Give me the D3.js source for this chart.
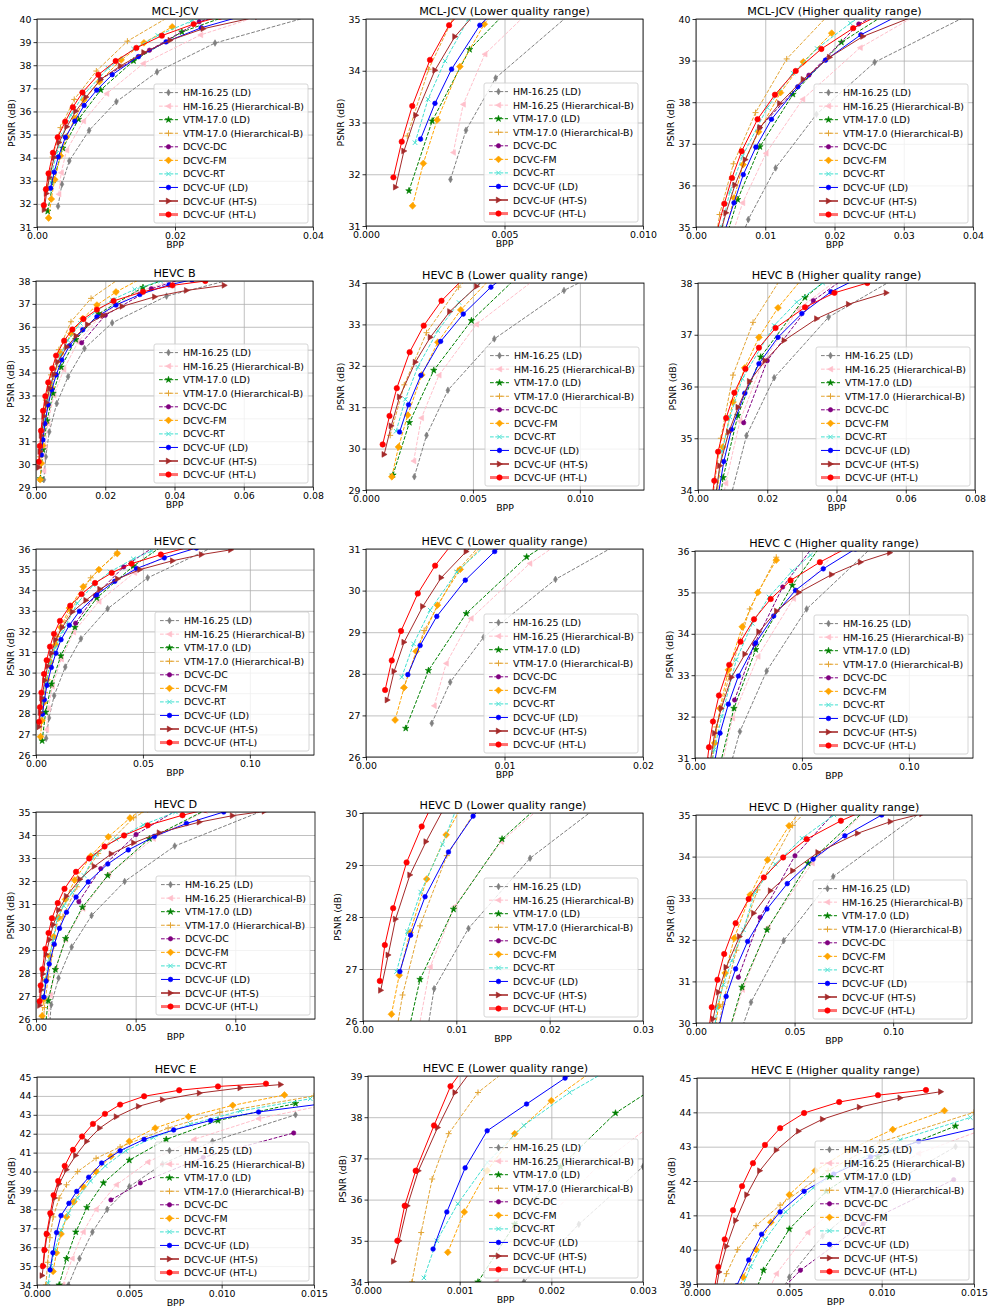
<!DOCTYPE html>
<html><head><meta charset="utf-8">
<script src="https://cdn.jsdelivr.net/npm/d3@7"></script>
<style>body{margin:0;background:#fff}svg{font-family:"DejaVu Sans",sans-serif}</style>
</head><body><svg id="c" width="992" height="1313"></svg>
<script>
const SERIES = ["HM-16.25 (LD)","HM-16.25 (Hierarchical-B)","VTM-17.0 (LD)","VTM-17.0 (Hierarchical-B)","DCVC-DC","DCVC-FM","DCVC-RT","DCVC-UF (LD)","DCVC-UF (HT-S)","DCVC-UF (HT-L)"];
const COLORS = ["#808080","#ffc0cb","#008000","#e3a535","#800080","#ffa500","#40e0d0","#0000ff","#a52a2a","#ff0000"];
const DASHED = [true,true,true,true,true,true,true,false,false,false];
const MARKERS = ["thin_diamond","tri_left","star","plus","circle_s","diamond","x","circle","tri_right","circle_l"];

// [bpp, psnr] per series, in SERIES order
const mclJcv = [
 [[0.00305,31.90],[0.00361,32.85],[0.00468,33.86],[0.00755,35.18],[0.0115,36.42],[0.0174,37.71],[0.0258,38.96],[0.0400,40.15]],
 [[0.00315,32.42],[0.00351,33.35],[0.00429,34.32],[0.00673,35.58],[0.0101,36.77],[0.0154,38.07],[0.0237,39.31],[0.034,40.3]],
 [[0.00155,31.68],[0.00239,33.03],[0.00374,34.41],[0.00601,35.66],[0.00923,36.93],[0.0140,38.19],[0.0210,39.44],[0.031,40.5]],
 [[0.00149,32.74],[0.00226,34.03],[0.0034,35.3],[0.0054,36.52],[0.0086,37.75],[0.0131,39.04],[0.0200,40.25]],
 [[0.0092,37.39],[0.0163,38.65],[0.0235,39.88],[0.035,40.9]],
 [[0.00168,31.39],[0.00207,32.21],[0.00257,33.05],[0.00339,34.08],[0.00427,34.90],[0.0055,35.70],[0.0068,36.50],[0.00904,37.29],[0.0122,38.23],[0.0155,38.97],[0.0196,39.66]],
 [[0.00177,32.61],[0.00224,33.45],[0.00285,34.19],[0.0037,35.0],[0.0049,35.85],[0.0067,36.7],[0.0103,37.87],[0.0140,38.7],[0.0175,39.29],[0.0223,39.9],[0.026,40.3]],
 [[0.00197,32.68],[0.00249,33.37],[0.00309,34.03],[0.00411,34.88],[0.00548,35.58],[0.00683,36.26],[0.00865,36.92],[0.0109,37.59],[0.0147,38.37],[0.0187,39.01],[0.0238,39.62],[0.030,40.15]],
 [[0.00107,31.75],[0.00137,32.45],[0.0018,33.14],[0.00249,34.01],[0.00321,34.66],[0.00433,35.34],[0.00563,36.01],[0.00712,36.62],[0.00923,37.39],[0.0121,37.97],[0.0155,38.55],[0.0193,39.08],[0.0241,39.58],[0.032,40.1]],
 [[0.00099,31.94],[0.00129,32.63],[0.00167,33.32],[0.00231,34.21],[0.0030,34.88],[0.00409,35.56],[0.00519,36.18],[0.00659,36.82],[0.00889,37.59],[0.0114,38.18],[0.0144,38.75],[0.0181,39.28],[0.0227,39.78],[0.0265,40.1]]
];
const hevcB = [
 [[0.00226,29.32],[0.00283,30.32],[0.00383,31.41],[0.0060,32.65],[0.00926,33.82],[0.0140,35.05],[0.0220,36.17],[0.0377,37.34],[0.065,38.4]],
 [[0.00223,29.70],[0.00259,30.74],[0.00341,31.77],[0.00516,33.0],[0.0080,34.13],[0.0121,35.33],[0.0185,36.45],[0.029,37.5],[0.045,38.3]],
 [[0.00126,29.36],[0.00203,30.63],[0.00317,31.89],[0.00493,33.09],[0.00726,34.24],[0.0115,35.44],[0.0181,36.57],[0.0309,37.72],[0.045,38.5]],
 [[0.00113,30.32],[0.00179,31.54],[0.00283,32.80],[0.00432,33.9],[0.0066,35.0],[0.0101,36.22],[0.0159,37.24],[0.025,38.2]],
 [[0.0132,35.3],[0.0200,36.5],[0.0333,37.66],[0.055,38.7]],
 [[0.00121,29.32],[0.00152,30.04],[0.00195,30.81],[0.00261,31.78],[0.00336,32.57],[0.00443,33.35],[0.00716,34.83],[0.0101,35.7],[0.0135,36.36],[0.0176,36.95],[0.0231,37.52],[0.034,38.4]],
 [[0.00141,30.42],[0.00184,31.19],[0.00242,31.97],[0.00336,32.85],[0.00435,33.53],[0.0070,34.75],[0.0092,35.41],[0.0128,36.15],[0.0220,37.18],[0.0285,37.63],[0.036,38.0]],
 [[0.00157,30.40],[0.00199,31.06],[0.00257,31.77],[0.00349,32.59],[0.00455,33.25],[0.00584,33.9],[0.00745,34.55],[0.00967,35.17],[0.0135,35.87],[0.0176,36.44],[0.0231,36.95],[0.0300,37.41],[0.0384,37.83],[0.045,38.05]],
 [[0.00085,29.86],[0.00118,30.55],[0.00157,31.25],[0.00231,32.09],[0.00301,32.69],[0.00392,33.31],[0.00518,33.92],[0.00629,34.47],[0.0089,35.12],[0.0116,35.6],[0.0149,36.1],[0.0194,36.5],[0.0249,36.89],[0.0343,37.31],[0.0435,37.59],[0.0544,37.81]],
 [[0.00078,30.1],[0.0011,30.79],[0.00144,31.46],[0.00204,32.33],[0.0027,32.97],[0.00353,33.57],[0.0047,34.18],[0.0058,34.74],[0.00813,35.39],[0.0105,35.88],[0.0137,36.34],[0.0176,36.75],[0.0224,37.13],[0.0309,37.53],[0.0394,37.81],[0.0489,38.0]]
];
const hevcC = [
 [[0.00475,26.81],[0.00608,27.8],[0.00849,28.88],[0.01368,30.27],[0.0210,31.64],[0.0335,33.1],[0.0522,34.6],[0.0850,36.2]],
 [[0.00492,27.23],[0.00579,28.25],[0.00758,29.33],[0.01182,30.65],[0.0175,31.96],[0.0294,33.45],[0.046,34.85],[0.068,36.1]],
 [[0.00287,26.69],[0.00451,28.08],[0.00724,29.45],[0.0116,30.81],[0.0182,32.2],[0.0284,33.62],[0.0455,35.17],[0.064,36.5]],
 [[0.0027,27.65],[0.0042,29.04],[0.0066,30.48],[0.0100,31.75],[0.0159,32.97],[0.0256,34.6],[0.0380,35.85]],
 [[0.0185,32.4],[0.0278,33.75],[0.041,35.13],[0.058,36.3]],
 [[0.0021,26.89],[0.00275,27.67],[0.00362,28.54],[0.00516,29.65],[0.0068,30.51],[0.0092,31.36],[0.0117,32.2],[0.0156,33.13],[0.0221,34.17],[0.0294,35.0],[0.0380,35.78]],
 [[0.00258,27.92],[0.00343,28.72],[0.00463,29.53],[0.00656,30.45],[0.0090,31.2],[0.0125,32.0],[0.0193,33.37],[0.0268,34.25],[0.0346,34.89],[0.0455,35.52],[0.054,35.9]],
 [[0.00302,27.98],[0.00391,28.68],[0.00511,29.38],[0.00717,30.25],[0.00929,30.94],[0.0117,31.6],[0.0156,32.3],[0.0203,32.98],[0.0284,33.78],[0.0368,34.43],[0.0470,35.05],[0.0600,35.57],[0.075,36.05]],
 [[0.00154,27.37],[0.00203,28.06],[0.00275,28.76],[0.0041,29.62],[0.00543,30.31],[0.00724,30.94],[0.0092,31.6],[0.0123,32.2],[0.0171,32.95],[0.0234,33.51],[0.0299,34.05],[0.0382,34.55],[0.0486,35.0],[0.0639,35.43],[0.0774,35.73],[0.0911,35.96]],
 [[0.00138,27.61],[0.00186,28.32],[0.00253,29.03],[0.00374,29.93],[0.00499,30.6],[0.00654,31.26],[0.00841,31.88],[0.0112,32.51],[0.0160,33.25],[0.0213,33.81],[0.0276,34.35],[0.0354,34.84],[0.0447,35.29],[0.0584,35.73],[0.072,36.1]]
];
const hevcD = [
 [[0.0068,25.7],[0.00762,26.62],[0.0113,27.78],[0.0179,29.13],[0.0279,30.5],[0.0445,31.98],[0.0696,33.52],[0.118,35.2]],
 [[0.0055,25.4],[0.0072,27.04],[0.0098,28.2],[0.0148,29.45],[0.0235,30.8],[0.0365,32.3],[0.0589,33.84],[0.085,35.05]],
 [[0.0045,25.5],[0.00611,26.8],[0.0097,28.15],[0.0149,29.5],[0.0233,30.86],[0.036,32.24],[0.0569,33.84],[0.090,35.3]],
 [[0.0033,25.5],[0.00424,26.5],[0.00611,27.83],[0.00898,29.18],[0.0135,30.45],[0.0205,31.75],[0.0312,33.2],[0.049,34.75],[0.056,35.1]],
 [[0.0215,31.1],[0.0325,32.54],[0.0502,34.02],[0.072,35.15]],
 [[0.00305,26.13],[0.00388,26.88],[0.00503,27.7],[0.00683,28.73],[0.00891,29.58],[0.0114,30.4],[0.0148,31.2],[0.0194,32.04],[0.0275,33.08],[0.0363,33.92],[0.0472,34.74],[0.053,35.1]],
 [[0.00359,26.95],[0.00474,27.72],[0.00618,28.48],[0.00852,29.4],[0.0106,30.36],[0.0139,30.92],[0.0182,31.5],[0.0241,32.24],[0.0297,33.14],[0.0402,33.82],[0.0538,34.44],[0.070,35.0]],
 [[0.00395,26.95],[0.0051,27.65],[0.00665,28.39],[0.00916,29.25],[0.0118,29.94],[0.0153,30.64],[0.0201,31.3],[0.0262,31.96],[0.036,32.74],[0.0463,33.35],[0.0594,33.94],[0.0755,34.5],[0.0942,35.0]],
 [[0.0019,26.59],[0.0027,27.27],[0.00349,27.96],[0.00503,28.81],[0.00676,29.45],[0.0087,30.1],[0.0114,30.74],[0.0153,31.34],[0.0221,32.08],[0.0293,32.64],[0.0378,33.18],[0.0491,33.66],[0.0619,34.1],[0.082,34.56],[0.0986,34.84],[0.1146,35.03]],
 [[0.0018,26.77],[0.00234,27.46],[0.00323,28.17],[0.00467,29.05],[0.00629,29.74],[0.0080,30.38],[0.0109,31.04],[0.0143,31.66],[0.0201,32.4],[0.0267,32.98],[0.0344,33.5],[0.0442,33.98],[0.0561,34.42],[0.0735,34.86],[0.085,35.1]]
];
const hevcE = [
 [[0.0017,34.0],[0.0023,35.4],[0.0030,36.8],[0.0038,38.0],[0.0050,39.2],[0.0068,40.4],[0.0095,41.6],[0.0140,43.0]],
 [[0.0014,34.0],[0.0019,35.4],[0.0025,36.8],[0.0032,38.0],[0.0043,39.3],[0.0060,40.5],[0.0085,41.7],[0.0120,42.8],[0.0160,43.6]],
 [[0.0012,34.0],[0.0016,35.4],[0.0021,36.8],[0.0027,38.1],[0.0036,39.4],[0.0050,40.6],[0.0070,41.7],[0.0098,42.7],[0.0140,43.6]],
 [[0.00048,34.0],[0.00058,35.2],[0.0007,36.5],[0.00088,37.6],[0.0012,38.6],[0.0016,39.3],[0.0022,40.0],[0.0032,40.7],[0.0045,41.3],[0.0071,42.3],[0.0099,43.13],[0.0150,44.0]],
 [[0.0040,38.5],[0.0056,39.4],[0.0090,40.75],[0.0139,42.04]],
 [[0.00087,34.72],[0.00105,35.7],[0.0013,36.7],[0.0016,37.6],[0.0020,38.4],[0.0025,39.2],[0.0032,40.0],[0.0040,40.8],[0.0050,41.6],[0.0064,42.3],[0.0082,42.9],[0.0106,43.5],[0.0134,44.05]],
 [[0.00061,34.1],[0.00075,35.0],[0.00098,35.9],[0.0013,36.9],[0.0017,37.8],[0.0022,38.6],[0.0029,39.5],[0.0037,40.3],[0.0048,41.1],[0.0063,41.8],[0.0083,42.5],[0.0110,43.2],[0.0148,43.85]],
 [[0.00071,34.8],[0.00086,35.7],[0.00106,36.77],[0.0013,37.67],[0.00173,38.32],[0.00215,38.95],[0.0028,39.7],[0.0035,40.45],[0.0045,41.1],[0.0058,41.7],[0.0074,42.2],[0.0094,42.7],[0.0120,43.15],[0.0152,43.55]],
 [[0.00028,34.5],[0.00034,35.0],[0.00043,35.85],[0.00055,36.7],[0.00076,37.75],[0.00095,38.6],[0.0012,39.35],[0.0016,40.1],[0.0021,40.85],[0.0027,41.6],[0.0034,42.3],[0.0043,42.9],[0.0055,43.45],[0.0068,43.8],[0.0088,44.15],[0.0110,44.42],[0.0132,44.6]],
 [[0.00032,35.0],[0.00040,35.85],[0.00052,36.7],[0.00072,37.8],[0.0009,38.75],[0.00115,39.5],[0.0015,40.3],[0.00195,41.15],[0.00244,41.85],[0.00303,42.52],[0.00368,43.05],[0.0045,43.54],[0.0058,43.98],[0.0077,44.3],[0.0098,44.5],[0.0124,44.65]]
];
const DATASETS = [mclJcv, hevcB, hevcC, hevcD, hevcE];

// tick labels
const xt004a = ["0.00","0.02","0.04"], xt001 = ["0.000","0.005","0.010"], xt004b = ["0.00","0.01","0.02","0.03","0.04"];
const xt008 = ["0.00","0.02","0.04","0.06","0.08"], xt0013 = ["0.000","0.005","0.010"];
const xt013 = ["0.00","0.05","0.10"], xt002 = ["0.00","0.01","0.02"], xt003 = ["0.00","0.01","0.02","0.03"];
const xt0015 = ["0.000","0.005","0.010","0.015"], xt0003 = ["0.000","0.001","0.002","0.003"];
const yt31_40 = ["31","32","33","34","35","36","37","38","39","40"], yt31_35 = ["31","32","33","34","35"], yt35_40 = ["35","36","37","38","39","40"];
const yt29_38 = ["29","30","31","32","33","34","35","36","37","38"], yt29_34 = ["29","30","31","32","33","34"], yt34_38 = ["34","35","36","37","38"];
const yt26_36 = ["26","27","28","29","30","31","32","33","34","35","36"], yt26_31 = ["26","27","28","29","30","31"], yt31_36 = ["31","32","33","34","35","36"];
const yt26_35 = ["26","27","28","29","30","31","32","33","34","35"], yt26_30 = ["26","27","28","29","30"], yt30_35 = ["30","31","32","33","34","35"];
const yt34_45 = ["34","35","36","37","38","39","40","41","42","43","44","45"], yt34_39 = ["34","35","36","37","38","39"], yt39_45 = ["39","40","41","42","43","44","45"];

const PANELS = [
 {ds:0,title:"MCL-JCV",xd:[0,0.04],yd:[31,40],xt:xt004a,yt:yt31_40,box:[37,19,313,227]},
 {ds:0,title:"MCL-JCV (Lower quality range)",xd:[0,0.01],yd:[31,35],xt:xt001,yt:yt31_35,box:[366,19,643,226]},
 {ds:0,title:"MCL-JCV (Higher quality range)",xd:[0,0.04],yd:[35,40],xt:xt004b,yt:yt35_40,box:[696,19,973,227]},
 {ds:1,title:"HEVC B",xd:[0,0.08],yd:[29,38],xt:xt008,yt:yt29_38,box:[36,281,313,487]},
 {ds:1,title:"HEVC B (Lower quality range)",xd:[0,0.013],yd:[29,34],xt:xt0013,yt:yt29_34,box:[366,283,644,490]},
 {ds:1,title:"HEVC B (Higher quality range)",xd:[0,0.08],yd:[34,38],xt:xt008,yt:yt34_38,box:[698,283,975,490]},
 {ds:2,title:"HEVC C",xd:[0,0.13],yd:[26,36],xt:xt013,yt:yt26_36,box:[36,549,314,755]},
 {ds:2,title:"HEVC C (Lower quality range)",xd:[0,0.02],yd:[26,31],xt:xt002,yt:yt26_31,box:[366,549,643,757],noYLabel:true},
 {ds:2,title:"HEVC C (Higher quality range)",xd:[0,0.13],yd:[31,36],xt:xt013,yt:yt31_36,box:[695,551,973,758]},
 {ds:3,title:"HEVC D",xd:[0,0.14],yd:[26,35],xt:xt013,yt:yt26_35,box:[36,812,315,1019]},
 {ds:3,title:"HEVC D (Lower quality range)",xd:[0,0.03],yd:[26,30],xt:xt003,yt:yt26_30,box:[363,813,643,1021]},
 {ds:3,title:"HEVC D (Higher quality range)",xd:[0,0.14],yd:[30,35],xt:xt013,yt:yt30_35,box:[696,815,972,1023]},
 {ds:4,title:"HEVC E",xd:[0,0.015],yd:[34,45],xt:xt0015,yt:yt34_45,box:[37,1077,314,1285]},
 {ds:4,title:"HEVC E (Lower quality range)",xd:[0,0.003],yd:[34,39],xt:xt0003,yt:yt34_39,box:[368,1076,643,1282]},
 {ds:4,title:"HEVC E (Higher quality range)",xd:[0,0.015],yd:[39,45],xt:xt0015,yt:yt39_45,box:[697,1078,974,1284]}
];

const svg = d3.select("#c");
const FS = 9.4;

function markerPath(type){
  switch(type){
    case "thin_diamond": return "M0,-3.3L1.9,0L0,3.3L-1.9,0Z";
    case "tri_left": return "M-2.8,0L2.2,-2.8L2.2,2.8Z";
    case "tri_right": return "M2.9,0L-2.2,-2.9L-2.2,2.9Z";
    case "star": return d3.symbol(d3.symbolStar, 13)();
    case "plus": return "M-3,0H3M0,-3V3";
    case "x": return "M-2.2,-2.2L2.2,2.2M-2.2,2.2L2.2,-2.2";
    case "diamond": return "M0,-3.4L3.4,0L0,3.4L-3.4,0Z";
    case "circle_s": return d3.symbol(d3.symbolCircle, 15)();
    case "circle": return d3.symbol(d3.symbolCircle, 17)();
    case "circle_l": return d3.symbol(d3.symbolCircle, 23)();
  }
}
function drawMarker(g, i, x, y){
  const t = MARKERS[i], c = COLORS[i];
  const open = (t==="plus"||t==="x");
  g.append("path").attr("d", markerPath(t)).attr("transform",`translate(${x},${y})`)
   .attr("fill", open?"none":c).attr("stroke", c).attr("stroke-width", open?1:0.6);
}

PANELS.forEach((p, pi) => {
  const [l,t,r,b] = p.box;
  const x = d3.scaleLinear().domain(p.xd).range([l,r]);
  const y = d3.scaleLinear().domain(p.yd).range([b,t]);
  const g = svg.append("g");
  const cid = "clip"+pi;
  g.append("clipPath").attr("id",cid).append("rect").attr("x",l).attr("y",t).attr("width",r-l).attr("height",b-t);
  const xv = p.xt.map(Number), yv = p.yt.map(Number);
  g.append("g").attr("transform",`translate(0,${b})`)
    .call(d3.axisBottom(x).tickValues(xv).tickSize(-(b-t)).tickFormat(""))
    .call(s=>{s.select(".domain").remove(); s.selectAll("line").attr("stroke","#b0b0b0").attr("stroke-width",0.8);});
  g.append("g").attr("transform",`translate(${l},0)`)
    .call(d3.axisLeft(y).tickValues(yv).tickSize(-(r-l)).tickFormat(""))
    .call(s=>{s.select(".domain").remove(); s.selectAll("line").attr("stroke","#b0b0b0").attr("stroke-width",0.8);});
  const data = DATASETS[p.ds];
  const plot = g.append("g").attr("clip-path",`url(#${cid})`);
  const line = d3.line().x(d=>x(d[0])).y(d=>y(d[1]));
  data.forEach((s, i) => {
    plot.append("path").attr("d", line(s)).attr("fill","none").attr("stroke",COLORS[i])
      .attr("stroke-width", 1).attr("stroke-dasharray", DASHED[i] ? "3.7,1.6" : null);
    s.forEach(d => drawMarker(plot, i, x(d[0]), y(d[1])));
  });
  g.append("rect").attr("x",l).attr("y",t).attr("width",r-l).attr("height",b-t).attr("fill","none").attr("stroke","#000").attr("stroke-width",0.8);
  g.append("g").attr("transform",`translate(0,${b})`)
    .call(d3.axisBottom(x).tickValues(xv).tickSize(3.5).tickPadding(2).tickFormat((d,k)=>p.xt[k]))
    .call(s=>{s.select(".domain").remove(); s.selectAll("line").attr("stroke","#000").attr("stroke-width",0.8);
      s.selectAll("text").attr("font-size",FS).attr("font-family","DejaVu Sans").attr("fill","#000");});
  g.append("g").attr("transform",`translate(${l},0)`)
    .call(d3.axisLeft(y).tickValues(yv).tickSize(3.5).tickPadding(2).tickFormat((d,k)=>p.yt[k]))
    .call(s=>{s.select(".domain").remove(); s.selectAll("line").attr("stroke","#000").attr("stroke-width",0.8);
      s.selectAll("text").attr("font-size",FS).attr("font-family","DejaVu Sans").attr("fill","#000");});
  g.append("text").attr("x",(l+r)/2).attr("y",b+21).attr("text-anchor","middle").attr("font-size",FS).text("BPP");
  if(!p.noYLabel){
    g.append("text").attr("transform",`translate(${l-25},${(t+b)/2}) rotate(-90)`).attr("text-anchor","middle")
      .attr("dominant-baseline","middle").attr("font-size",FS).text("PSNR (dB)");
  }
  g.append("text").attr("x",(l+r)/2).attr("y",t-4.5).attr("text-anchor","middle").attr("font-size",11.2).text(p.title);
  const LW = 154, LH = 139;
  const lx = r - 5 - LW, ly = b - 4 - LH;
  const lg = g.append("g");
  lg.append("rect").attr("x",lx).attr("y",ly).attr("width",LW).attr("height",LH).attr("rx",2)
    .attr("fill","#fff").attr("fill-opacity",0.8).attr("stroke","#cccccc").attr("stroke-width",0.8);
  SERIES.forEach((name, i) => {
    const cy = ly + 8.6 + i*13.55;
    lg.append("line").attr("x1",lx+5).attr("x2",lx+24).attr("y1",cy).attr("y2",cy)
      .attr("stroke", i===9 ? "#ff7070" : COLORS[i]).attr("stroke-width", i===9 ? 3 : (i===8 ? 1.6 : 1))
      .attr("stroke-dasharray", DASHED[i] ? "3.7,1.6" : null);
    drawMarker(lg, i, lx+14.5, cy);
    lg.append("text").attr("x",lx+29).attr("y",cy).attr("dominant-baseline","central").attr("font-size",FS).text(name);
  });
});
</script></body></html>
